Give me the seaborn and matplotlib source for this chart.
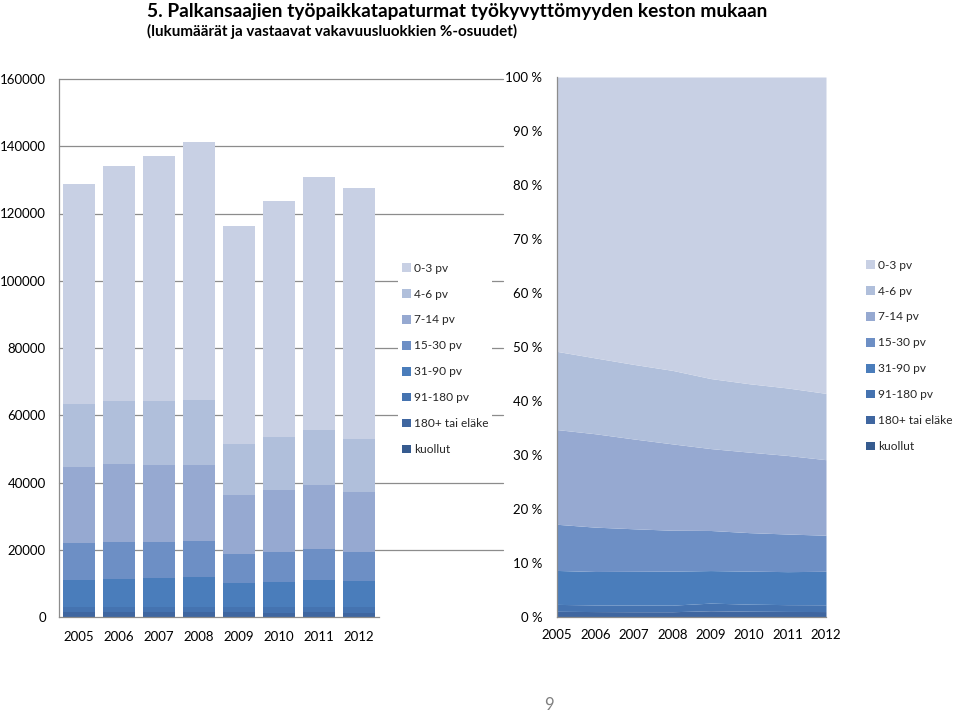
import matplotlib
matplotlib.use('Agg')
import matplotlib.pyplot as plt
from matplotlib.patches import Patch
import seaborn as sns
import numpy as np
import pandas as pd

# ---------------- data ----------------
years = ['2005', '2006', '2007', '2008', '2009', '2010', '2011', '2012']
categories = ['0-3 pv', '4-6 pv', '7-14 pv', '15-30 pv', '31-90 pv',
              '91-180 pv', '180+ tai eläke', 'kuollut']
v_0_3 = [65450, 69770, 72970, 76760, 64940, 70260, 75380, 74750]
v_4_6 = [18650, 18830, 18930, 19240, 15080, 15670, 16360, 15670]
v_7_14 = [22590, 23190, 22800, 22600, 17640, 18440, 19040, 17850]
v_15_30 = [11010, 11010, 10800, 10700, 8630, 8820, 9120, 8520]
v_31_90 = [8100, 8300, 8550, 8900, 7010, 7560, 8000, 7910]
v_91_180 = [1650, 1650, 1700, 1720, 1640, 1620, 1650, 1600]
v_180plus = [1300, 1300, 1300, 1330, 1310, 1280, 1300, 1250]
v_kuollut = [55, 50, 47, 52, 40, 46, 45, 40]
y_ticks_left = [0, 20000, 40000, 60000, 80000, 100000, 120000, 140000, 160000]
y_ticks_right = [0, 10, 20, 30, 40, 50, 60, 70, 80, 90, 100]

colors = ['#c8d0e4', '#b0bfdb', '#96a9d1', '#6d8fc5', '#4a7dbb',
          '#4573b0', '#3f66a0', '#365b8f']
series = [v_0_3, v_4_6, v_7_14, v_15_30, v_31_90, v_91_180, v_180plus, v_kuollut]

title = '5. Palkansaajien työpaikkatapaturmat työkyvyttömyyden keston mukaan'
subtitle = '(lukumäärät ja vastaavat vakavuusluokkien %-osuudet)'

# ---------------- setup ----------------
sns.set_theme(style='white')
plt.rcParams['font.family'] = ['Lato', 'DejaVu Sans']
grid_c = '#8c8c8c'
tick_fs = 9.5

W, H = 960, 712
fig = plt.figure(figsize=(W / 100, H / 100), dpi=100)


def rect(x0, y0, x1, y1):
    return [x0 / W, 1 - y1 / H, (x1 - x0) / W, (y1 - y0) / H]


ax1 = fig.add_axes(rect(59, 79, 379, 617))
ax2 = fig.add_axes(rect(557, 77, 826, 617))

# ---------------- left: stacked bars ----------------
df = pd.DataFrame({'year': years})
for c, s in zip(categories, series):
    df[c] = s
cum = df[categories[::-1]].cumsum(axis=1)
for i, c in enumerate(categories):  # top layer first (largest cumulative)
    sns.barplot(x=df['year'], y=cum[c], color=colors[i], saturation=1,
                width=0.8, linewidth=0, ax=ax1, zorder=2)

ax1.set_xlim(-0.5, 7.5)
ax1.set_ylim(0, 160000)
ax1.set_yticks(y_ticks_left)
ax1.set_yticklabels([str(v) for v in y_ticks_left], fontsize=tick_fs, color='black')
for yv in y_ticks_left[1:]:
    ax1.plot([-0.5, -0.5 + 8 * (503 - 59) / 320], [yv, yv], color=grid_c,
             lw=0.9, clip_on=False, zorder=0.5)
ax1.set_xticks(range(8))
ax1.set_xticklabels(years, fontsize=tick_fs, color='black')
ax1.set_xticks(np.arange(-0.5, 8, 1), minor=True)
ax1.tick_params(axis='x', which='major', length=0, pad=10)
ax1.tick_params(axis='x', which='minor', length=3.5, color=grid_c, width=0.9, direction='out')
ax1.tick_params(axis='y', length=3.5, color=grid_c, width=0.9, direction='out', pad=6)
ax1.set_xlabel('')
ax1.set_ylabel('')
for sp in ['top', 'right']:
    ax1.spines[sp].set_visible(False)
for sp in ['left', 'bottom']:
    ax1.spines[sp].set_color(grid_c)
    ax1.spines[sp].set_linewidth(0.9)
ax1.patch.set_alpha(0)

# ---------------- right: 100% stacked area ----------------
x = np.arange(len(years))
arr = np.array(series, dtype=float)
pct = arr / arr.sum(axis=0) * 100
ax2.stackplot(x, pct[::-1], colors=colors[::-1], linewidth=0)
ax2.set_xlim(0, 7)
ax2.set_ylim(0, 100)
ax2.set_yticks(y_ticks_right)
ax2.set_yticklabels([f'{v} %' for v in y_ticks_right], fontsize=tick_fs, color='black')
ax2.set_xticks(x)
ax2.set_xticklabels(years, fontsize=tick_fs, color='black')
ax2.tick_params(axis='both', length=3.5, color=grid_c, width=0.9, direction='out')
ax2.tick_params(axis='y', pad=7)
ax2.tick_params(axis='x', pad=5)
for sp in ['top', 'right']:
    ax2.spines[sp].set_visible(False)
for sp in ['left', 'bottom']:
    ax2.spines[sp].set_color(grid_c)
    ax2.spines[sp].set_linewidth(0.9)

# ---------------- legends ----------------
handles = [Patch(facecolor=c, edgecolor='none') for c in colors]
leg_kw = dict(frameon=True, facecolor='white', edgecolor='none', framealpha=1,
              fontsize=8.6, handlelength=0.75, handleheight=0.75, handletextpad=0.3,
              labelspacing=1.25, borderpad=0.3, borderaxespad=0)
fig.legend(handles, categories, loc='upper left',
           bbox_to_anchor=(398 / W, 1 - 259 / H), **leg_kw)
fig.legend(handles, categories, loc='upper left',
           bbox_to_anchor=(862 / W, 1 - 256 / H), **leg_kw)

# ---------------- texts ----------------
fig.text(147 / W, 1 - 12 / H, title, fontsize=13.8, fontweight='bold',
         va='center', ha='left', color='black')
fig.text(147 / W, 1 - 31 / H, subtitle, fontsize=10.9, fontweight='bold',
         va='center', ha='left', color='black')
fig.text(549 / W, 1 - 705 / H, '9', fontsize=12, va='center', ha='center',
         color='#7f7f7f')

fig.savefig('out.png', dpi=100)
